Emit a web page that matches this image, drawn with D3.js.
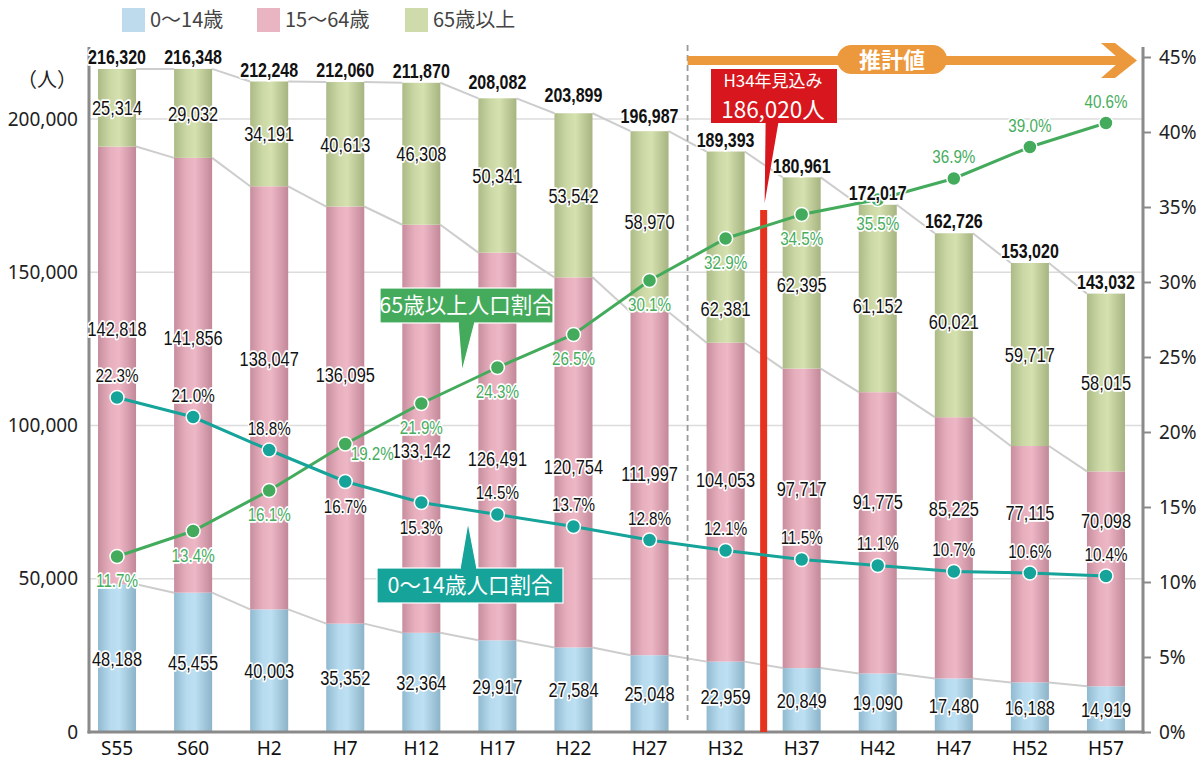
<!DOCTYPE html>
<html>
<head>
<meta charset="utf-8">
<script src="https://cdn.jsdelivr.net/npm/d3@7"></script>
<style>
  html, body { margin: 0; padding: 0; background: #fff; }
  svg { display: block; }
</style>
</head>
<body>
<svg id="chart" width="1204" height="763"></svg>
<script>
// ── data ─────────────────────────────────────────────
const years    = ['S55', 'S60', 'H2', 'H7', 'H12', 'H17', 'H22', 'H27', 'H32', 'H37', 'H42', 'H47', 'H52', 'H57'];
const pop0_14  = [48188, 45455, 40003, 35352, 32364, 29917, 27584, 25048, 22959, 20849, 19090, 17480, 16188, 14919];
const pop15_64 = [142818, 141856, 138047, 136095, 133142, 126491, 120754, 111997, 104053, 97717, 91775, 85225, 77115, 70098];
const pop65    = [25314, 29032, 34191, 40613, 46308, 50341, 53542, 58970, 62381, 62395, 61152, 60021, 59717, 58015];
const totals   = [216320, 216348, 212248, 212060, 211870, 208082, 203899, 196987, 189393, 180961, 172017, 162726, 153020, 143032];
const pct65    = [11.7, 13.4, 16.1, 19.2, 21.9, 24.3, 26.5, 30.1, 32.9, 34.5, 35.5, 36.9, 39.0, 40.6];
const pct0_14  = [22.3, 21.0, 18.8, 16.7, 15.3, 14.5, 13.7, 12.8, 12.1, 11.5, 11.1, 10.7, 10.6, 10.4];
const popTicks = [0, 50000, 100000, 150000, 200000];
const pctTicks = [0, 5, 10, 15, 20, 25, 30, 35, 40, 45];
const seriesNames = ['0～14歳', '15～64歳', '65歳以上'];
const projFrom = 'H32';
const h34Text = ['H34年見込み', '186,020人'];

// ── setup ────────────────────────────────────────────
const svg = d3.select('#chart');
const NUM_FONT = "'Liberation Sans', Arial, sans-serif";
const AX_FONT = "'Noto Sans', 'DejaVu Sans', sans-serif";
const JP_FONT = "'Noto Sans CJK JP', 'Noto Sans', sans-serif";
const plotTop = 47, plotBottom = 732, plotLeft = 89, plotRight = 1143;

const x = d3.scaleBand().domain(years).range([79, 1144]).paddingInner(0.5).paddingOuter(0.25);
const bw = x.bandwidth();
const cx = d => x(d) + bw / 2;
const y = d3.scaleLinear().domain([0, 200000]).range([plotBottom, 119]);
const yp = d3.scaleLinear().domain([0, 45]).range([plotBottom, 57]);

const fmt = d3.format(',');

// bar gradients (cylinder look)
const defs = svg.append('defs');
const grads = {
  kids: [['0', '#90bad0'], ['0.32', '#b6daee'], ['0.55', '#bde0f3'], ['1', '#8cb3c8']],
  work: [['0', '#c78d9e'], ['0.32', '#e7afbe'], ['0.55', '#eeb7c6'], ['1', '#c28899']],
  old:  [['0', '#abba86'], ['0.32', '#cbd8a5'], ['0.55', '#d5e1af'], ['1', '#a6b482']]
};
Object.entries(grads).forEach(([k, stops]) => {
  const lg = defs.append('linearGradient').attr('id', 'g-' + k).attr('x1', 0).attr('x2', 1).attr('y1', 0).attr('y2', 0);
  stops.forEach(s => lg.append('stop').attr('offset', s[0]).attr('stop-color', s[1]));
});
const swatchColors = ['#bddbec', '#e9b5c3', '#cfdbaa'];

// ── gridlines ────────────────────────────────────────
svg.append('g').selectAll('line')
  .data(popTicks.filter(d => d > 0)).enter().append('line')
    .attr('x1', plotLeft).attr('x2', plotRight)
    .attr('y1', d => y(d)).attr('y2', d => y(d))
    .attr('stroke', '#dcdcdc').attr('stroke-width', 1.5);

// ── stacked bars ─────────────────────────────────────
const rows = years.map((yr, i) => ({ year: yr, kids: pop0_14[i], work: pop15_64[i], old: pop65[i] }));
const keys = ['kids', 'work', 'old'];
const stacked = d3.stack().keys(keys)(rows);

// connector lines between bars at each boundary
const conn = svg.append('g');
stacked.forEach(layer => {
  conn.selectAll(null)
    .data(layer.slice(0, -1)).enter().append('line')
      .attr('x1', d => x(d.data.year) + bw)
      .attr('y1', d => y(d[1]))
      .attr('x2', (d, i) => x(layer[i + 1].data.year))
      .attr('y2', (d, i) => y(layer[i + 1][1]))
      .attr('stroke', '#cdcdcd').attr('stroke-width', 2);
});

const barG = svg.append('g');
stacked.forEach(layer => {
  barG.selectAll(null)
    .data(layer).enter().append('rect')
      .attr('x', d => x(d.data.year))
      .attr('width', bw)
      .attr('y', d => y(d[1]))
      .attr('height', d => y(d[0]) - y(d[1]))
      .attr('fill', `url(#g-${layer.key})`);
});

// ── axes ─────────────────────────────────────────────
const axisColor = '#8a8a8a';
const gl = svg.append('g').attr('transform', `translate(${plotLeft},0)`)
  .call(d3.axisLeft(y).tickValues(popTicks).tickSize(0).tickPadding(11).tickFormat(fmt));
gl.select('.domain').remove();
gl.selectAll('text').attr('font-family', AX_FONT).attr('font-size', 19).attr('fill', '#222');

const gr = svg.append('g').attr('transform', `translate(${plotRight},0)`)
  .call(d3.axisRight(yp).tickValues(pctTicks).tickSize(8).tickPadding(8).tickFormat(d => d + '%'));
gr.select('.domain').remove();
gr.selectAll('line').attr('stroke', axisColor).attr('stroke-width', 2);
gr.selectAll('text').attr('font-family', AX_FONT).attr('font-size', 19).attr('fill', '#222');

const gb = svg.append('g').attr('transform', `translate(0,${plotBottom})`)
  .call(d3.axisBottom(x).tickSize(0).tickPadding(10));
gb.select('.domain').remove();
gb.selectAll('text').attr('font-family', AX_FONT).attr('font-size', 19).attr('fill', '#111');

[[plotLeft, plotTop, plotLeft, plotBottom + 1.5], [plotRight, plotTop, plotRight, plotBottom + 1.5],
 [plotLeft - 1.5, plotBottom, plotRight + 1.5, plotBottom]].forEach(l => {
  svg.append('line').attr('x1', l[0]).attr('y1', l[1]).attr('x2', l[2]).attr('y2', l[3])
    .attr('stroke', axisColor).attr('stroke-width', 3);
});

svg.append('text').attr('x', 47).attr('y', 80).attr('dy', '0.35em')
  .attr('text-anchor', 'middle').attr('font-family', JP_FONT).attr('font-size', 20).attr('fill', '#222')
  .text('（人）');

// ── projection markers ───────────────────────────────
const pi = years.indexOf(projFrom);
const dashX = (x(years[pi - 1]) + bw + x(years[pi])) / 2;
svg.append('line').attr('x1', dashX).attr('x2', dashX).attr('y1', 45).attr('y2', 720)
  .attr('stroke', '#9a9a9a').attr('stroke-width', 1.8).attr('stroke-dasharray', '6,4');

const redX = (x(years[pi]) + bw + x(years[pi + 1])) / 2;
svg.append('rect').attr('x', redX - 3.5).attr('y', 210).attr('width', 7).attr('height', plotBottom - 210)
  .attr('fill', '#e6331d');

// orange "推計値" arrow
const orange = '#ec993d';
svg.append('rect').attr('x', dashX).attr('y', 56).attr('width', 1124 - dashX).attr('height', 9).attr('fill', orange);
svg.append('polygon')
  .attr('points', [[1101, 43], [1115, 43], [1137, 60.5], [1115, 78], [1101, 78], [1121, 60.5]].map(p => p.join(',')).join(' '))
  .attr('fill', orange);
svg.append('rect').attr('x', 837).attr('y', 45).attr('width', 110).attr('height', 29).attr('rx', 14.5)
  .attr('fill', orange);
svg.append('text').attr('x', 892).attr('y', 60).attr('dy', '0.36em').attr('text-anchor', 'middle')
  .attr('font-family', JP_FONT).attr('font-weight', 700).attr('font-size', 22).attr('fill', '#fff')
  .text('推計値');

// red H34 callout
svg.append('polygon')
  .attr('points', [[redX + 2, 121], [redX + 15, 121], [redX + 1, 203]].map(p => p.join(',')).join(' '))
  .attr('fill', '#d7161d');
svg.append('rect').attr('x', 711).attr('y', 69).attr('width', 126).attr('height', 54).attr('fill', '#d7161d');
svg.append('text').attr('x', 773).attr('y', 87).attr('text-anchor', 'middle')
  .attr('font-family', JP_FONT).attr('font-size', 17).attr('fill', '#fff').text(h34Text[0]);
svg.append('text').attr('x', 773).attr('y', 118).attr('text-anchor', 'middle')
  .attr('font-family', JP_FONT).attr('font-size', 22.5).attr('fill', '#fff').text(h34Text[1]);

// ── ratio lines ──────────────────────────────────────
const GREEN = '#43ab5b', TEAL = '#15a39a';
function drawRatio(vals, color) {
  const pts = vals.map((v, i) => [cx(years[i]), yp(v)]);
  svg.append('path').attr('d', d3.line()(pts))
    .attr('fill', 'none').attr('stroke', color).attr('stroke-width', 3);
  svg.append('g').selectAll('circle').data(pts).enter().append('circle')
    .attr('cx', d => d[0]).attr('cy', d => d[1]).attr('r', 7)
    .attr('fill', color).attr('stroke', '#fff').attr('stroke-width', 1.5);
}
drawRatio(pct65, GREEN);
drawRatio(pct0_14, TEAL);

// ── labels ───────────────────────────────────────────
const labelG = svg.append('g');
function label(px, py, text, o) {
  labelG.append('text')
    .attr('transform', `translate(${px},${py}) scale(${o.sx || 0.78},1)`)
    .attr('dy', '0.36em')
    .attr('text-anchor', 'middle')
    .attr('font-family', NUM_FONT)
    .attr('font-size', o.size || 21)
    .attr('font-weight', o.bold ? 700 : 400)
    .attr('fill', o.fill || '#111')
    .attr('stroke', '#fff').attr('stroke-width', o.halo || 3.5)
    .attr('stroke-linejoin', 'round').attr('paint-order', 'stroke')
    .text(text);
}

// where inside the segment each label sits (0 = top, 1 = bottom)
const workLabelAt = [0.415, 0.414, 0.406, 0.403, 0.552, 0.53, 0.51, 0.47, 0.43, 0.40, 0.39, 0.35, 0.28, 0.23];
const oldLabelAt  = [0.5, 0.5, 0.5, 0.5, 0.5, 0.5, 0.5, 0.5, 0.82, 0.56, 0.535, 0.48, 0.5, 0.5];

stacked[0].forEach((d, i) => label(cx(years[i]), (y(d[0]) + y(d[1])) / 2, fmt(pop0_14[i]), {}));
stacked[1].forEach((d, i) => {
  const t = y(d[1]), b = y(d[0]);
  label(cx(years[i]), t + (b - t) * workLabelAt[i], fmt(pop15_64[i]), {});
});
stacked[2].forEach((d, i) => {
  const t = y(d[1]), b = y(d[0]);
  label(cx(years[i]), t + (b - t) * oldLabelAt[i], fmt(pop65[i]), {});
});
totals.forEach((v, i) => label(cx(years[i]), y(v) - 12, fmt(v), { bold: true, size: 20, sx: 0.8 }));

// ratio labels
pct65.forEach((v, i) => {
  let dx = 0, dy = 24;
  if (i === 3) { dx = 27; dy = 9; }
  if (i >= 11) dy = -22;
  label(cx(years[i]) + dx, yp(v) + dy, v.toFixed(1) + '%', { size: 19, sx: 0.8, fill: '#46ad5e' });
});
pct0_14.forEach((v, i) => {
  const dy = (i === 3 || i === 4) ? 25 : -22;
  label(cx(years[i]), yp(v) + dy, v.toFixed(1) + '%', { size: 19, sx: 0.8 });
});

// ── callouts ─────────────────────────────────────────
function callout(bx, by, w, h, tip, base, color, text) {
  svg.append('polygon')
    .attr('points', [[base[0], base[1]], [base[0] + 17, base[1]], tip].map(p => p.join(',')).join(' '))
    .attr('fill', color).attr('stroke', '#fff').attr('stroke-width', 1.2);
  svg.append('rect').attr('x', bx).attr('y', by).attr('width', w).attr('height', h)
    .attr('fill', color).attr('stroke', '#fff').attr('stroke-width', 1.2);
  // hide the seam between box and pointer
  const seamY = base[1] > by + h / 2 ? by + h - 3 : by - 1;
  svg.append('rect').attr('x', base[0] + 1).attr('y', seamY).attr('width', 15).attr('height', 4).attr('fill', color);
  svg.append('text').attr('x', bx + w / 2).attr('y', by + h / 2).attr('dy', '0.36em')
    .attr('text-anchor', 'middle').attr('font-family', JP_FONT).attr('font-size', 21.5).attr('fill', '#fff')
    .text(text);
}
callout(380, 288, 173, 35, [462, 372], [458, 322], '#45ab5c', '65歳以上人口割合');
callout(377, 568, 186, 35, [468, 522], [460, 569], TEAL, '0～14歳人口割合');

// ── legend ───────────────────────────────────────────
const legX = [122, 257, 405];
const leg = svg.append('g');
seriesNames.forEach((n, i) => {
  leg.append('rect').attr('x', legX[i]).attr('y', 8).attr('width', 23).attr('height', 24).attr('fill', swatchColors[i]);
  leg.append('text').attr('x', legX[i] + 28).attr('y', 20).attr('dy', '0.36em')
    .attr('font-family', JP_FONT).attr('font-size', 20).attr('fill', '#444').text(n);
});
</script>
</body>
</html>
